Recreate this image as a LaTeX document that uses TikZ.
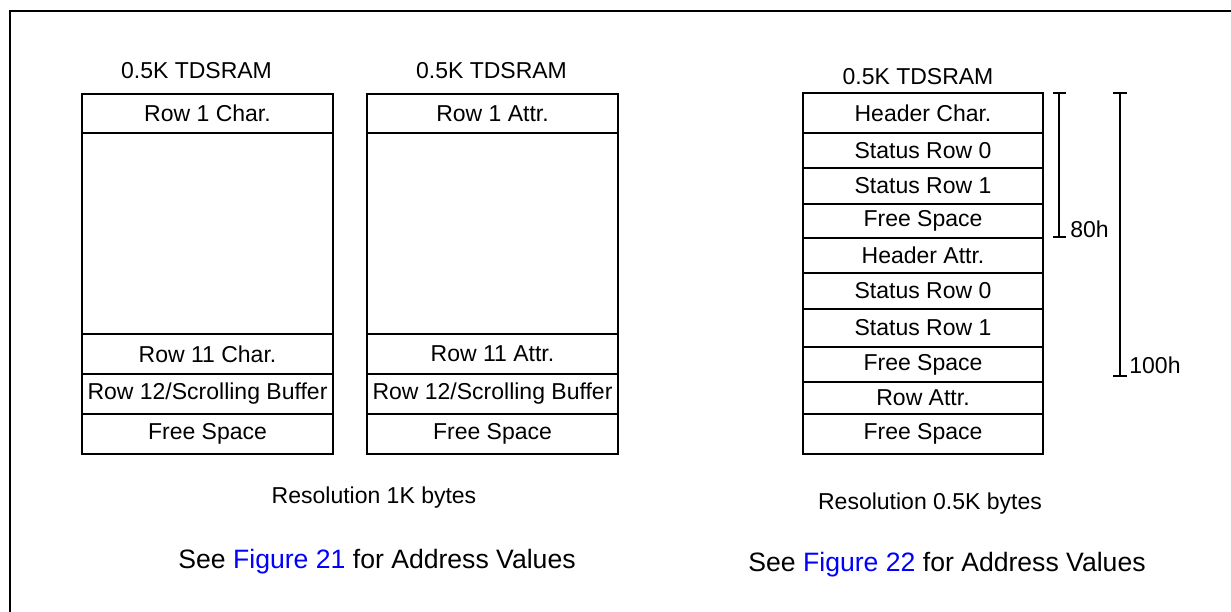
\documentclass[tikz,border=0pt]{standalone}
\usepackage{fontspec}
\setmainfont{Liberation Sans}
\definecolor{linkblue}{RGB}{0,0,255}
\tikzset{
  cellbox/.style={draw, line width=1pt, inner sep=0pt, font=\fontsize{11.5}{13}\selectfont},
  plain/.style={inner sep=0pt, font=\fontsize{11.5}{13}\selectfont},
  seetext/.style={inner sep=0pt, font=\fontsize{13.3}{15}\selectfont},
  frameline/.style={line width=1.35pt},
  bracket/.style={line width=1pt},
}
\newcommand\memcell[6]{\node[cellbox, minimum width={(#4-#2)*0.5pt}, minimum height={(#5-#3)*0.5pt}] (#1) at ({(#2+#4)/2},{(#3+#5)/2}) {#6};}
\begin{document}
\begin{tikzpicture}[x=0.5pt,y=-0.5pt]
\useasboundingbox (0,0) rectangle (1231,611);
% outer frame (only top and left visible)
\coordinate (fbl) at (10,615);
\coordinate (ftl) at (10,11);
\coordinate (ftr) at (1235,11);
\draw[frameline] (fbl) -- (ftl) -- (ftr);

% ---------- left column ----------
\node[plain, anchor=base] (lt) at (196.5,78) {0.5K TDSRAM};
\memcell{a1}{82}{94}{333}{133}{Row 1 Char.}
\memcell{a2}{82}{133}{333}{334}{}
\memcell{a3}{82}{334}{333}{374}{Row 11 Char.}
\memcell{a4}{82}{374}{333}{414}{Row 12/Scrolling Buffer}
\memcell{a5}{82}{414}{333}{454}{Free Space}

% ---------- middle column ----------
\node[plain, anchor=base] (mt) at (491.5,78) {0.5K TDSRAM};
\memcell{b1}{367}{94}{618}{133}{Row 1 Attr.}
\memcell{b2}{367}{133}{618}{334}{}
\memcell{b3}{367}{334}{618}{374}{Row 11 Attr.}
\memcell{b4}{367}{374}{618}{414}{Row 12/Scrolling Buffer}
\memcell{b5}{367}{414}{618}{454}{Free Space}

\node[plain, anchor=base] (res1) at (374,503) {Resolution 1K bytes};
\node[seetext, anchor=base] (see1) at (377,568) {See \textcolor{linkblue}{Figure 21} for Address Values};

% ---------- right column ----------
\node[plain, anchor=base] (rt) at (918,84) {0.5K TDSRAM};
\memcell{c1}{803}{93}{1043}{133}{Header Char.}
\memcell{c2}{803}{133}{1043}{168}{Status Row 0}
\memcell{c3}{803}{168}{1043}{204}{Status Row 1}
\memcell{c4}{803}{204}{1043}{238}{Free Space}
\memcell{c5}{803}{238}{1043}{273}{Header Attr.}
\memcell{c6}{803}{273}{1043}{309}{Status Row 0}
\memcell{c7}{803}{309}{1043}{347}{Status Row 1}
\memcell{c8}{803}{347}{1043}{382}{Free Space}
\memcell{c9}{803}{382}{1043}{414}{Row Attr.}
\memcell{c10}{803}{414}{1043}{454}{Free Space}

% brackets
\coordinate (p1t) at (1059,93);
\coordinate (p1b) at (1059,237);
\coordinate (p1tl) at (1053,93);
\coordinate (p1tr) at (1066,93);
\coordinate (p1bl) at (1053,237);
\coordinate (p1br) at (1066,237);
\draw[bracket] (p1t) -- (p1b);
\draw[bracket] (p1tl) -- (p1tr);
\draw[bracket] (p1bl) -- (p1br);
\node[plain, anchor=base west] (l80) at (1070,237) {80h};

\coordinate (p2t) at (1120,93);
\coordinate (p2b) at (1120,376);
\coordinate (p2tl) at (1113,93);
\coordinate (p2tr) at (1127,93);
\coordinate (p2bl) at (1113,376);
\coordinate (p2br) at (1127,376);
\draw[bracket] (p2t) -- (p2b);
\draw[bracket] (p2tl) -- (p2tr);
\draw[bracket] (p2bl) -- (p2br);
\node[plain, anchor=base west] (l100) at (1129,373) {100h};

\node[plain, anchor=base] (res2) at (930,509) {Resolution 0.5K bytes};
\node[seetext, anchor=base] (see2) at (947,571) {See \textcolor{linkblue}{Figure 22} for Address Values};
\end{tikzpicture}
\end{document}
